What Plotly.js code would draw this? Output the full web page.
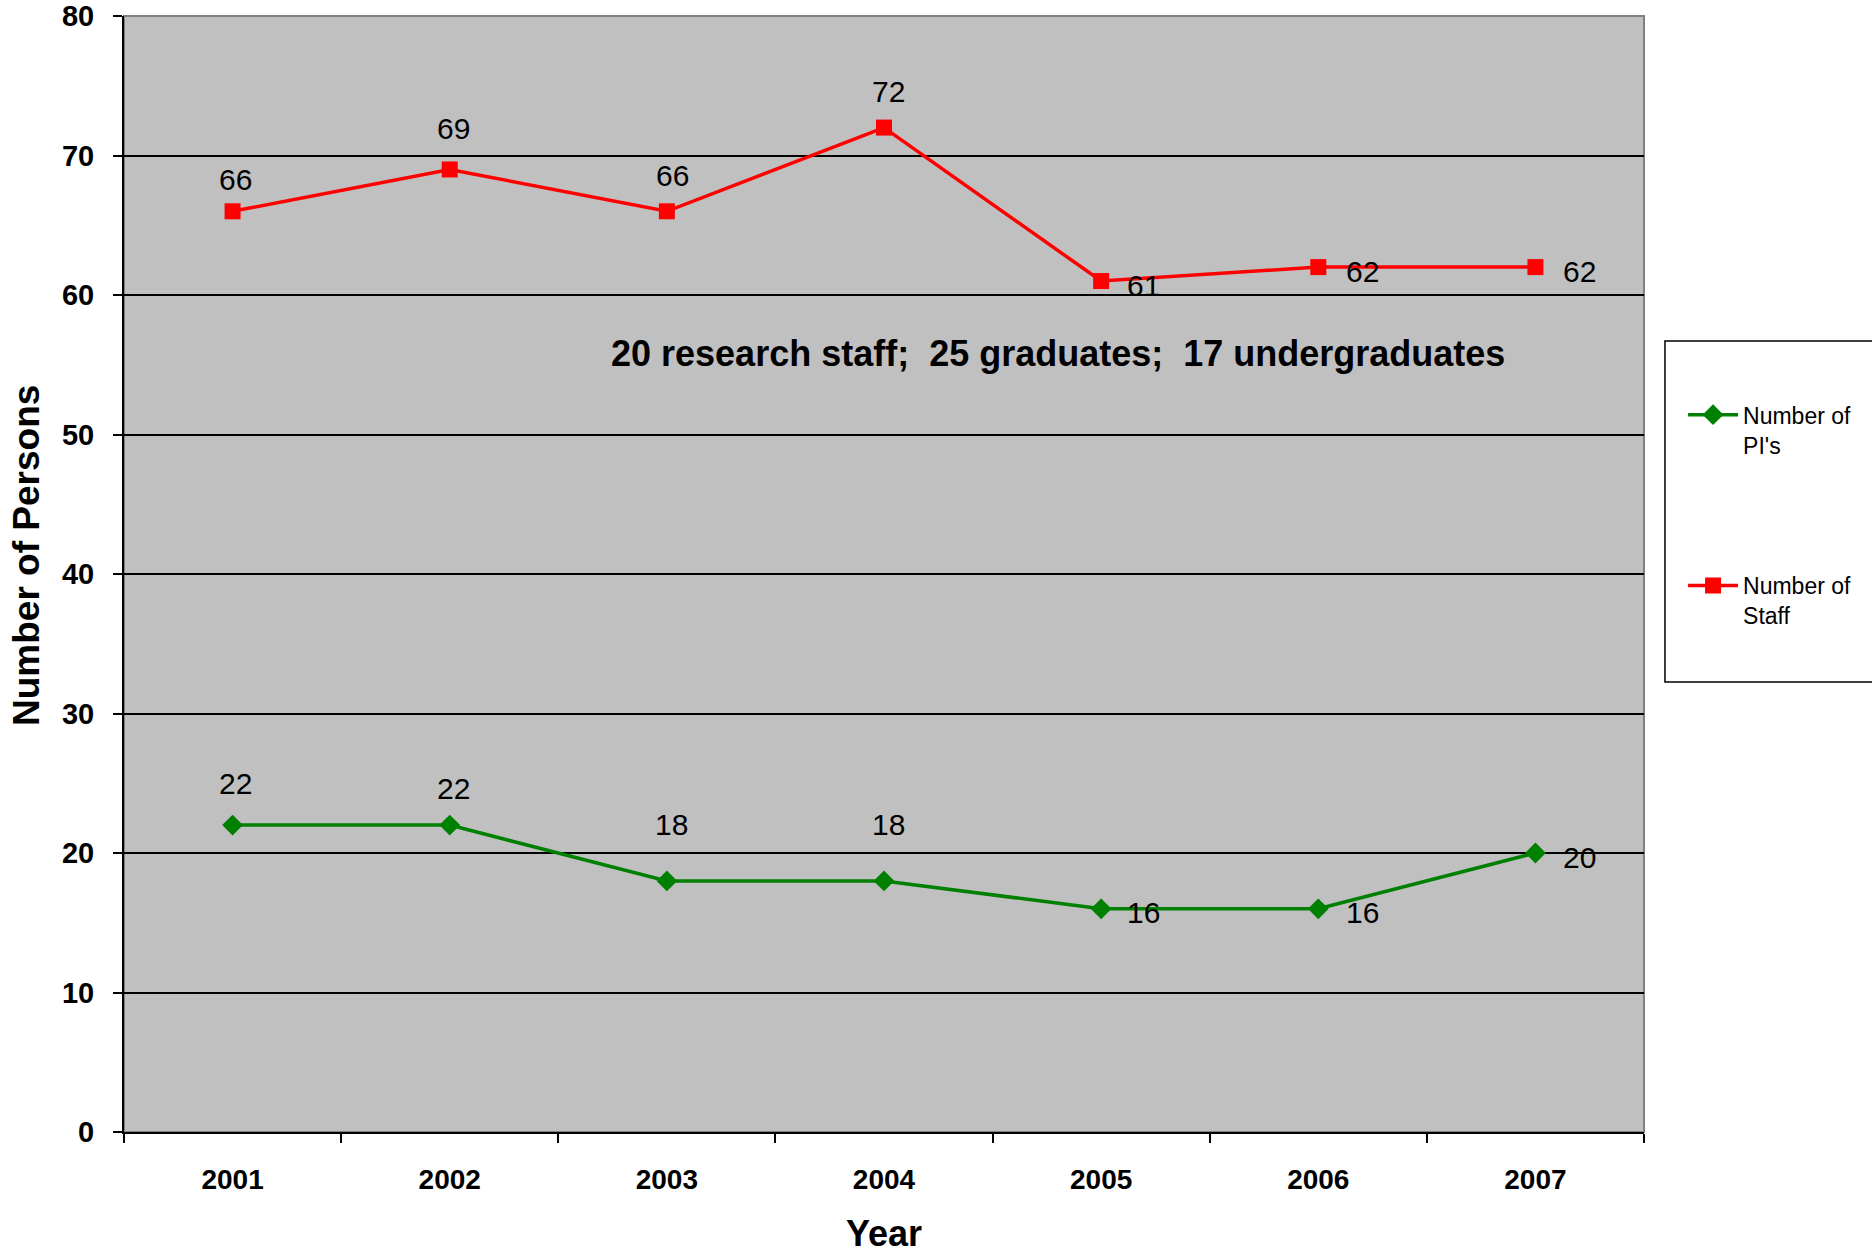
<!DOCTYPE html>
<html>
<head>
<meta charset="utf-8">
<script src="https://cdn.plot.ly/plotly-3.0.1.min.js"></script>
<style>html,body{margin:0;padding:0;background:#fff;}#chart{width:1872px;height:1255px;}</style>
</head>
<body>
<div id="chart"></div>
<script>
const years = ['2001','2002','2003','2004','2005','2006','2007'];
const piValues = [22, 22, 18, 18, 16, 16, 20];
const staffValues = [66, 69, 66, 72, 61, 62, 62];
const piName = "Number of<br>PI's";
const staffName = "Number of<br>Staff";
const noteText = "20 research staff;  25 graduates;  17 undergraduates";
const xTitle = 'Year';
const yTitle = 'Number of Persons';

// label offsets (pixels) for the data labels, per point
const piLabelShift = [[3, 42], [4, 37], [5, 56], [4, 56], [42, -4], [44, -4], [44, -4]];
const staffLabelShift = [[3, 32], [4, 41], [6, 36], [4, 36], [42, -4], [44, -4], [44, -4]];

const labelFont = {family: 'Liberation Sans, Arial, sans-serif', size: 30, color: '#000'};

function makeLabels(values, shifts) {
  return values.map((v, i) => ({
    x: i, y: v, xref: 'x', yref: 'y', text: String(v), showarrow: false,
    xshift: shifts[i][0], yshift: shifts[i][1], font: labelFont,
    xanchor: 'center', yanchor: 'middle'
  }));
}

const traces = [
  {
    x: years, y: piValues, name: piName, type: 'scatter', mode: 'lines+markers',
    line: {color: '#008000', width: 3.5},
    marker: {symbol: 'diamond', size: 16, color: '#008000'},
    legendgroup: 'a'
  },
  {
    x: years, y: staffValues, name: staffName, type: 'scatter', mode: 'lines+markers',
    line: {color: '#FF0000', width: 3.5},
    marker: {symbol: 'square', size: 16, color: '#FF0000'},
    legendgroup: 'b'
  }
];

const layout = {
  width: 1872, height: 1255,
  paper_bgcolor: '#ffffff',
  plot_bgcolor: '#C0C0C0',
  margin: {l: 124, r: 228, t: 16, b: 123, autoexpand: false},
  showlegend: true,
  legend: {
    x: 1.0257, y: 0.662, xanchor: 'left', yanchor: 'top',
    bgcolor: 'rgba(0,0,0,0)', borderwidth: 0,
    font: {family: 'Liberation Sans, Arial, sans-serif', size: 23, color: '#000'},
    valign: 'top', traceorder: 'grouped', tracegroupgap: 108, itemwidth: 50
  },
  xaxis: {
    type: 'category', categoryorder: 'array', categoryarray: years,
    range: [-0.5, 6.5], tickson: 'boundaries',
    ticks: 'outside', ticklen: 9, tickwidth: 2, tickcolor: '#000',
    showline: true, linecolor: '#000', linewidth: 2,
    showgrid: false, zeroline: false,
    tickfont: {family: 'Liberation Sans, Arial, sans-serif', size: 28, color: '#000', weight: 'bold'},
    ticklabelstandoff: 21,
    title: {text: xTitle, standoff: 27, font: {family: 'Liberation Sans, Arial, sans-serif', size: 36, color: '#000', weight: 'bold'}}
  },
  yaxis: {
    range: [0, 80], dtick: 10, tick0: 0,
    ticks: 'outside', ticklen: 9, tickwidth: 2, tickcolor: '#000',
    showline: true, linecolor: '#000', linewidth: 2,
    showgrid: true, gridcolor: '#000', gridwidth: 2, zeroline: false,
    tickfont: {family: 'Liberation Sans, Arial, sans-serif', size: 29, color: '#000', weight: 'bold'},
    ticklabelstandoff: 13, ticklabeloverflow: 'allow'
  },
  shapes: [
    {type: 'rect', xref: 'paper', yref: 'paper', x0: 0, x1: 1, y0: 0, y1: 1,
     line: {color: '#808080', width: 2}, fillcolor: 'rgba(0,0,0,0)', layer: 'below'},
    {type: 'rect', xref: 'paper', yref: 'paper', x0: 1.0138, x1: 1.3, y0: 0.4032, y1: 0.7088,
     line: {color: '#000', width: 1.5}, fillcolor: '#ffffff', layer: 'below'}
  ],
  annotations: [
    {xref: 'paper', yref: 'paper', x: 0.6145, y: 0.698, xanchor: 'center', yanchor: 'middle',
     text: noteText, showarrow: false,
     font: {family: 'Liberation Sans Narrow, Arial Narrow, Liberation Sans, sans-serif', size: 36, color: '#000', weight: 'bold'}},
    {xref: 'paper', yref: 'paper', x: -0.0645, y: 0.517, xanchor: 'center', yanchor: 'middle',
     text: yTitle, textangle: -90, showarrow: false,
     font: {family: 'Liberation Sans, Arial, sans-serif', size: 37, color: '#000', weight: 'bold'}}
  ].concat(makeLabels(piValues, piLabelShift), makeLabels(staffValues, staffLabelShift))
};

Plotly.newPlot('chart', traces, layout, {displayModeBar: false, staticPlot: true});
</script>
</body>
</html>
